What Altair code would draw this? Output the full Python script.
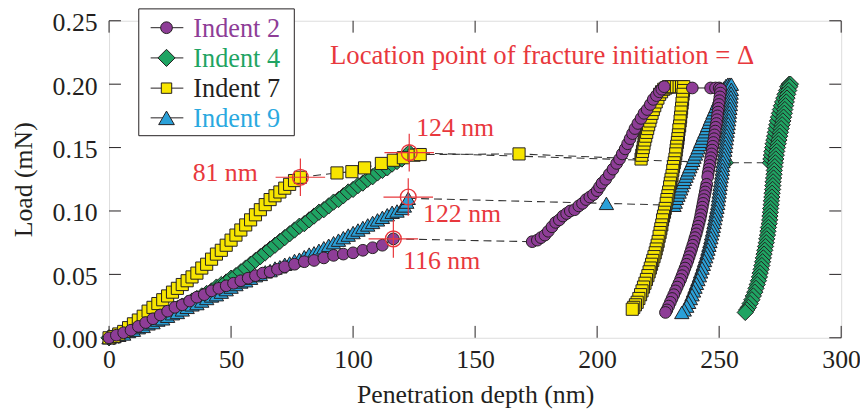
import altair as alt
import pandas as pd

SERIF = "Liberation Serif"
RED = "#e8383d"
INK = "#231f20"

# ---------------- data ----------------
series_names = ["Indent 2", "Indent 4", "Indent 7", "Indent 9"]
fill_colors = ["#8e3d97", "#1fa463", "#f7e500", "#2aa0d8"]
text_colors = ["#8e3d97", "#1fa463", "#231f20", "#2aa9e0"]
shapes = ["circle", "diamond", "square", "triangle-up"]

x_ticks = [0, 50, 100, 150, 200, 250, 300]
y_ticks = [0.00, 0.05, 0.10, 0.15, 0.20, 0.25]

# Indent 2 (purple circles)
i2_load_x = [0, 3, 6, 9, 12, 15, 18, 21, 24, 27, 30, 33, 36, 39, 42, 45, 48, 51, 54, 57,
             60, 63, 66, 69, 72, 76, 80, 84, 88, 92, 96, 100, 104, 108, 112, 116.5]
i2_load_y = [0.000, 0.002, 0.004, 0.006, 0.009, 0.012, 0.015, 0.018, 0.021, 0.024, 0.026,
             0.029, 0.032, 0.034, 0.037, 0.039, 0.041, 0.043, 0.045, 0.047, 0.049, 0.051,
             0.052, 0.054, 0.056, 0.058, 0.060, 0.061, 0.063, 0.065, 0.066, 0.067, 0.069,
             0.071, 0.073, 0.078]
i2_pop_x = []
i2_pop_y = []
i2_after_x = [173.4, 175.5, 177, 178.6, 180, 181.5, 183, 184.5, 186, 187.5, 189, 190.8, 192.5,
              194, 195.5, 197, 198.5, 200, 201, 202, 203.5, 205, 206.5, 208, 209.2, 210.3,
              211.5, 212.5, 213.5, 214.5, 215.5, 216.7, 218, 219.2, 220.5, 221.8, 223, 224.3,
              225.5, 226.5, 227.5, 239, 246.5, 248.5, 250,
              250.6, 250.5, 250.3, 250.1, 249.9, 249.7, 249.5, 249.3, 249.1, 248.9, 248.6,
              248.4, 248.1, 247.9, 247.6, 247.4, 247.1, 246.9, 246.6, 246.3, 246.1, 245.8,
              245.5, 245.3, 244.9, 244.6, 244.3, 244.0, 243.7, 243.4, 243.1, 242.8, 242.5,
              242.2, 241.8, 241.4, 241.0, 240.6, 240.1, 239.7, 239.2, 238.7, 238.2, 237.7,
              237.2, 236.6, 236.0, 235.4, 234.8, 234.2, 233.5, 232.8, 232.1, 231.4, 230.7,
              230.0, 229.3, 228.6, 228.0]
i2_after_y = [0.0758, 0.077, 0.079, 0.081, 0.084, 0.0875, 0.091, 0.093, 0.096, 0.098, 0.100,
              0.101, 0.104, 0.106, 0.109, 0.111, 0.113, 0.116, 0.119, 0.122, 0.125, 0.129,
              0.133, 0.1375, 0.141, 0.145, 0.149, 0.153, 0.157, 0.161, 0.165, 0.169, 0.173,
              0.177, 0.180, 0.184, 0.188, 0.191, 0.194, 0.196, 0.198, 0.197, 0.197, 0.197,
              0.197,
              0.196, 0.193, 0.190, 0.187, 0.184, 0.181, 0.178, 0.175, 0.172, 0.169, 0.166,
              0.163, 0.160, 0.157, 0.154, 0.151, 0.148, 0.145, 0.142, 0.139, 0.136, 0.133,
              0.130, 0.127, 0.121, 0.118, 0.115, 0.112, 0.109, 0.106, 0.103, 0.100, 0.097,
              0.094, 0.091, 0.088, 0.085, 0.082, 0.079, 0.076, 0.073, 0.070, 0.067, 0.064,
              0.061, 0.058, 0.055, 0.052, 0.049, 0.046, 0.043, 0.040, 0.037, 0.034, 0.031,
              0.028, 0.025, 0.022, 0.020]

# Indent 4 (green diamonds)
i4_load_x = [0, 2, 4, 6, 8, 10, 12, 14, 16, 18, 20, 22, 24, 26, 28, 30, 32, 34, 36, 38, 40,
             42, 44, 46, 48, 50, 52, 54, 56, 58, 60, 62, 64, 66, 68, 70, 72, 74, 76, 78, 80,
             82, 84, 86, 88, 90, 92, 94, 96, 98, 100, 102, 104, 106, 108, 110, 112, 114, 116,
             118, 120, 122, 123]
i4_load_y = [0.000, 0.001, 0.002, 0.004, 0.005, 0.007, 0.008, 0.010, 0.012, 0.013, 0.015,
             0.017, 0.019, 0.021, 0.023, 0.025, 0.027, 0.029, 0.031, 0.033, 0.035, 0.037,
             0.040, 0.042, 0.044, 0.047, 0.049, 0.052, 0.055, 0.058, 0.061, 0.064, 0.067,
             0.070, 0.073, 0.076, 0.079, 0.082, 0.085, 0.088, 0.090, 0.093, 0.096, 0.099,
             0.101, 0.104, 0.107, 0.109, 0.112, 0.115, 0.117, 0.120, 0.122, 0.125, 0.127,
             0.130, 0.132, 0.134, 0.137, 0.139, 0.141, 0.144, 0.146]
i4_pop_x = [252.5]
i4_pop_y = [0.138]
i4_after_x = [271.0, 271.2, 271.4, 271.6, 271.9, 272.1, 272.4, 272.7, 273.0, 273.3, 273.6,
              273.9, 274.3, 274.7, 275.1, 275.5, 276.0, 276.5, 277.0, 277.6, 278.1, 278.7,
              279.2,
              278.9, 278.5, 278.1, 277.8, 277.5, 277.2, 276.9, 276.7, 276.4, 276.1, 275.8,
              275.4, 275.1, 274.8, 274.5, 274.2, 273.9, 273.6, 273.4, 273.2, 273.0, 272.8,
              272.6, 272.5, 272.3, 272.1, 272.0, 271.9, 271.7, 271.6, 271.4, 271.3, 271.1,
              271.0, 270.8, 270.7, 270.5, 270.2, 270.0, 269.8, 269.5, 269.3, 269.0, 268.7,
              268.4, 268.1, 267.8, 267.5, 267.2, 266.8, 266.5, 266.1, 265.6, 265.1, 264.6,
              264.0, 263.4, 262.7, 262.0, 261.3, 260.7]
i4_after_y = [0.138, 0.141, 0.144, 0.147, 0.150, 0.153, 0.156, 0.159, 0.162, 0.165, 0.168,
              0.171, 0.174, 0.177, 0.180, 0.183, 0.186, 0.189, 0.192, 0.195, 0.198, 0.200,
              0.200,
              0.198, 0.195, 0.192, 0.189, 0.186, 0.183, 0.180, 0.177, 0.174, 0.171, 0.168,
              0.165, 0.162, 0.159, 0.156, 0.153, 0.150, 0.147, 0.144, 0.141, 0.138, 0.135,
              0.132, 0.129, 0.126, 0.123, 0.120, 0.117, 0.114, 0.111, 0.108, 0.105, 0.102,
              0.099, 0.096, 0.093, 0.090, 0.087, 0.084, 0.081, 0.078, 0.075, 0.072, 0.069,
              0.066, 0.063, 0.060, 0.057, 0.054, 0.051, 0.048, 0.045, 0.042, 0.039, 0.036,
              0.033, 0.030, 0.027, 0.024, 0.022, 0.020]

# Indent 7 (yellow squares)
i7_load_x = [0, 2, 4, 6, 8, 10, 12, 14, 16, 18, 20, 22, 24, 26, 28, 30, 32, 34, 36, 38, 40,
             42, 44, 46, 48, 50, 52, 54, 56, 58, 60, 62, 64, 66, 68, 70, 72, 74, 76, 78.4]
i7_load_y = [0.000, 0.001, 0.003, 0.005, 0.008, 0.011, 0.014, 0.017, 0.021, 0.024, 0.027,
             0.030, 0.033, 0.036, 0.039, 0.042, 0.045, 0.048, 0.051, 0.055, 0.058, 0.062,
             0.066, 0.069, 0.073, 0.077, 0.081, 0.085, 0.089, 0.093, 0.097, 0.101, 0.105,
             0.109, 0.112, 0.115, 0.118, 0.121, 0.124, 0.1266]
i7_pop_x = [93.4, 99.5, 104.7, 111.6, 116.5, 120.6, 125, 127.5, 168]
i7_pop_y = [0.130, 0.131, 0.134, 0.1375, 0.140, 0.142, 0.144, 0.1445, 0.145]
i7_after_x = [218.0, 218.3, 218.6, 218.9, 219.2, 219.5, 219.9, 220.3, 220.7, 221.1, 221.6,
              222.0, 222.5, 223.0, 223.6, 224.2, 224.9, 225.6, 226.4, 227.3, 228.2, 229.2,
              230.3, 231.4, 232.5, 233.6, 234.6, 235.5,
              235.4, 235.2, 235.0, 234.8, 234.6, 234.4, 234.2, 234.0, 233.8, 233.5, 233.3,
              233.1, 232.9, 232.6, 232.4, 232.2, 231.9, 231.6, 231.3, 231.0, 230.7, 230.3,
              230.0, 229.7, 229.3, 229.0, 228.6, 228.3, 227.9, 227.6, 227.2, 226.8, 226.5,
              226.1, 225.8, 225.4, 225.0, 224.6, 224.2, 223.8, 223.3, 222.8, 222.3, 221.8,
              221.3, 220.8, 220.2, 219.6, 219.0, 218.4, 217.8, 217.1, 216.4, 215.7, 215.0,
              214.4]
i7_after_y = [0.141, 0.144, 0.147, 0.150, 0.153, 0.156, 0.159, 0.162, 0.165, 0.168, 0.171,
              0.174, 0.177, 0.180, 0.183, 0.186, 0.189, 0.192, 0.194, 0.196, 0.197, 0.198,
              0.198, 0.198, 0.198, 0.198, 0.198, 0.198,
              0.195, 0.192, 0.188, 0.185, 0.181, 0.178, 0.174, 0.171, 0.167, 0.164, 0.160,
              0.157, 0.154, 0.151, 0.148, 0.145, 0.141, 0.138, 0.135, 0.132, 0.128, 0.125,
              0.122, 0.119, 0.115, 0.112, 0.109, 0.106, 0.102, 0.099, 0.096, 0.093, 0.089,
              0.086, 0.083, 0.080, 0.076, 0.073, 0.070, 0.067, 0.064, 0.061, 0.058, 0.055,
              0.052, 0.049, 0.046, 0.043, 0.040, 0.037, 0.034, 0.031, 0.028, 0.026, 0.024,
              0.0225]

# Indent 9 (blue triangles)
i9_load_x = [0, 2, 4, 6, 8, 10, 12, 14, 16, 18, 20, 22, 24, 26, 28, 30, 32, 34, 36, 38, 40,
             42, 44, 46, 48, 50, 52, 54, 56, 58, 60, 62, 64, 66, 68, 70, 72, 74, 76, 78, 80,
             82, 84, 86, 88, 90, 92, 94, 96, 98, 100, 102, 104, 106, 108, 110, 112, 114, 116,
             118, 120, 121, 122, 122.6]
i9_load_y = [0.000, 0.001, 0.002, 0.003, 0.005, 0.006, 0.008, 0.009, 0.011, 0.012, 0.014,
             0.015, 0.017, 0.019, 0.020, 0.022, 0.024, 0.026, 0.027, 0.029, 0.031, 0.033,
             0.034, 0.036, 0.038, 0.040, 0.042, 0.044, 0.045, 0.047, 0.049, 0.050, 0.052,
             0.053, 0.055, 0.056, 0.058, 0.059, 0.061, 0.062, 0.064, 0.066, 0.067, 0.069,
             0.071, 0.073, 0.075, 0.077, 0.079, 0.081, 0.083, 0.085, 0.087, 0.089, 0.091,
             0.093, 0.095, 0.097, 0.099, 0.100, 0.102, 0.104, 0.107, 0.110]
i9_pop_x = [203.8]
i9_pop_y = [0.106]
i9_after_x = [231.5, 232.0, 232.5, 233.1, 233.6, 234.2, 234.7, 235.3, 235.8, 236.4, 236.9,
              237.5, 238.0, 238.6, 239.2, 239.7, 240.3, 240.9, 241.4, 242.0, 242.5, 243.1,
              243.6, 244.2, 244.8, 245.3, 245.9, 246.4, 247.0, 247.5, 248.1, 248.7, 249.2,
              249.8, 250.3, 250.9, 251.5, 252.0, 252.8, 253.6, 254.4, 255.0,
              255.0, 254.9, 254.8, 254.7, 254.6, 254.4, 254.2, 254.1, 253.9, 253.7, 253.5,
              253.3, 253.1, 252.9, 252.7, 252.5, 252.3, 252.1, 251.9, 251.6, 251.4, 251.3,
              251.1, 250.8, 250.6, 250.4, 250.2, 250.0, 249.8, 249.6, 249.4, 249.1, 248.8,
              248.5, 248.2, 247.9, 247.6, 247.3, 246.9, 246.6, 246.2, 245.8, 245.4, 245.0,
              244.5, 244.0, 243.5, 243.0, 242.4, 241.9, 241.3, 240.7, 240.1, 239.5, 238.9,
              238.2, 237.5, 236.7, 235.7, 234.7]
i9_after_y = [0.1045, 0.107, 0.110, 0.1125, 0.115, 0.1175, 0.120, 0.1225, 0.125, 0.1275,
              0.130, 0.1325, 0.135, 0.1375, 0.140, 0.1425, 0.145, 0.1475, 0.150, 0.1525,
              0.155, 0.1575, 0.160, 0.1625, 0.165, 0.1675, 0.170, 0.1725, 0.175, 0.1775,
              0.180, 0.1825, 0.185, 0.1875, 0.190, 0.1925, 0.195, 0.197, 0.199, 0.200,
              0.200, 0.200,
              0.196, 0.193, 0.190, 0.187, 0.184, 0.181, 0.178, 0.175, 0.172, 0.169, 0.166,
              0.163, 0.160, 0.157, 0.154, 0.151, 0.148, 0.145, 0.142, 0.139, 0.136, 0.133,
              0.130, 0.127, 0.124, 0.121, 0.118, 0.115, 0.112, 0.109, 0.106, 0.103, 0.100,
              0.097, 0.094, 0.091, 0.088, 0.085, 0.082, 0.079, 0.076, 0.073, 0.070, 0.067,
              0.064, 0.061, 0.058, 0.055, 0.052, 0.049, 0.046, 0.043, 0.040, 0.037, 0.034,
              0.031, 0.028, 0.025, 0.022, 0.020]

# fracture-initiation markers
ann_x = [78.4, 123.0, 122.6, 116.5]
ann_y = [0.1266, 0.146, 0.111, 0.078]
ann_labels = ["81 nm", "124 nm", "122 nm", "116 nm"]

heading = "Location point of fracture initiation = \u0394"

# ---------------- tables ----------------
series_data = {
    "Indent 2": (i2_load_x, i2_load_y, i2_pop_x, i2_pop_y, i2_after_x, i2_after_y),
    "Indent 4": (i4_load_x, i4_load_y, i4_pop_x, i4_pop_y, i4_after_x, i4_after_y),
    "Indent 7": (i7_load_x, i7_load_y, i7_pop_x, i7_pop_y, i7_after_x, i7_after_y),
    "Indent 9": (i9_load_x, i9_load_y, i9_pop_x, i9_pop_y, i9_after_x, i9_after_y),
}

marker_frames = {}
solid_rows, dash_rows = [], []
for name, (lx, ly, px, py, ax, ay) in series_data.items():
    xs = lx + px + ax
    ys = ly + py + ay
    marker_frames[name] = pd.DataFrame({"x": xs, "y": ys, "o": list(range(len(xs)))})
    for k, (a, b) in enumerate(zip(lx, ly)):
        solid_rows.append({"g": name + "a", "x": a, "y": b, "o": k})
    for k, (a, b) in enumerate(zip(ax, ay)):
        solid_rows.append({"g": name + "b", "x": a, "y": b, "o": k})
    dxs = [lx[-1]] + px + [ax[0]]
    dys = [ly[-1]] + py + [ay[0]]
    for k, (a, b) in enumerate(zip(dxs, dys)):
        dash_rows.append({"g": name + "p", "x": a, "y": b, "o": k})

solid_df = pd.DataFrame(solid_rows)
dash_df = pd.DataFrame(dash_rows)
ann_df = pd.DataFrame({"x": ann_x, "y": ann_y, "label": ann_labels})
xt_df = pd.DataFrame({"x": x_ticks})
yt_df = pd.DataFrame({"y": y_ticks})

W, H = 739, 320

xscale = alt.Scale(domain=[0, 300], nice=False, zero=False)
yscale = alt.Scale(domain=[0, 0.25], nice=False, zero=False)
xaxis = alt.Axis(values=x_ticks, ticks=False, domain=False, grid=False, labelFlush=False,
                 labelOverlap=False, labelFont=SERIF, labelFontSize=26, labelColor=INK,
                 labelPadding=9, title="Penetration depth (nm)", titleFont=SERIF,
                 titleFontSize=26, titleFontWeight="normal", titleColor=INK, titlePadding=9)
yaxis = alt.Axis(values=y_ticks, format=".2f", ticks=False, domain=False, grid=False,
                 labelFlush=False, labelOverlap=False, labelFont=SERIF, labelFontSize=26,
                 labelColor=INK, labelPadding=12, labelOffset=2, title="Load (mN)",
                 titleFont=SERIF, titleFontSize=26, titleFontWeight="normal", titleColor=INK,
                 titlePadding=16)

X = alt.X("x:Q", scale=xscale, axis=xaxis)
Y = alt.Y("y:Q", scale=yscale, axis=yaxis)

layers = []
# inward ticks on all four sides
layers.append(alt.Chart(xt_df).mark_rule(color=INK, strokeWidth=1).encode(
    x=X, y=alt.value(H), y2=alt.value(H - 12)))
layers.append(alt.Chart(xt_df).mark_rule(color=INK, strokeWidth=1).encode(
    x=X, y=alt.value(0), y2=alt.value(12)))
layers.append(alt.Chart(yt_df).mark_rule(color=INK, strokeWidth=1).encode(
    y=Y, x=alt.value(0), x2=alt.value(12)))
layers.append(alt.Chart(yt_df).mark_rule(color=INK, strokeWidth=1).encode(
    y=Y, x=alt.value(W - 12), x2=alt.value(W)))

# connecting lines
layers.append(alt.Chart(solid_df).mark_line(color=INK, strokeWidth=1).encode(
    x=X, y=Y, detail="g:N", order="o:Q"))
layers.append(alt.Chart(dash_df).mark_line(color="#333333", strokeWidth=1.1,
                                            strokeDash=[8, 5]).encode(
    x=X, y=Y, detail="g:N", order="o:Q"))

marker_sizes = {"Indent 2": 140, "Indent 4": 270, "Indent 7": 150, "Indent 9": 210}
for name in ["Indent 4", "Indent 9", "Indent 7", "Indent 2"]:
    i = series_names.index(name)
    layers.append(alt.Chart(marker_frames[name]).mark_point(
        shape=shapes[i], filled=True, fill=fill_colors[i], fillOpacity=1, opacity=1,
        stroke=INK, strokeWidth=1, size=marker_sizes[name]).encode(x=X, y=Y, order="o:Q"))

# red crosshair targets
layers.append(alt.Chart(ann_df).mark_point(
    shape="M-1,0L1,0M0,-0.76L0,0.76", filled=False, stroke=RED, strokeWidth=1.2,
    size=2500, opacity=1).encode(x=X, y=Y))
layers.append(alt.Chart(ann_df).mark_point(
    shape="circle", filled=False, stroke=RED, strokeWidth=1.4, size=254, opacity=1).encode(
    x=X, y=Y))

label_offsets = [(-43, -4, "right"), (7, -25, "left"), (15, 17, "left"), (10, 22, "left")]
for k, (dx, dy, al) in enumerate(label_offsets):
    layers.append(alt.Chart(ann_df.iloc[[k]]).mark_text(
        font=SERIF, fontSize=26, color=RED, align=al, baseline="middle", dx=dx, dy=dy).encode(
        x=X, y=Y, text="label:N"))

layers.append(alt.Chart(pd.DataFrame({"t": [heading]})).mark_text(
    font=SERIF, fontSize=27, color=RED, align="left", baseline="alphabetic").encode(
    x=alt.value(223), y=alt.value(44), text="t:N"))

# legend (drawn by hand so each label keeps its series colour and line-through symbol)
one = pd.DataFrame({"k": [0]})
layers.append(alt.Chart(one).mark_rect(fill="white", stroke=INK, strokeWidth=1).encode(
    x=alt.value(30), x2=alt.value(187), y=alt.value(-12), y2=alt.value(116)))
row_y = [7, 37.5, 68, 98]
for i, name in enumerate(series_names):
    ry = row_y[i]
    layers.append(alt.Chart(one).mark_rule(color=INK, strokeWidth=1).encode(
        x=alt.value(42), x2=alt.value(75), y=alt.value(ry)))
    layers.append(alt.Chart(one).mark_point(
        shape=shapes[i], filled=True, fill=fill_colors[i], stroke=INK, strokeWidth=1,
        opacity=1, size=[140, 300, 110, 250][i]).encode(x=alt.value(58), y=alt.value(ry)))
    layers.append(alt.Chart(pd.DataFrame({"n": [name]})).mark_text(
        font=SERIF, fontSize=26.5, color=text_colors[i], align="left",
        baseline="alphabetic").encode(x=alt.value(85), y=alt.value(ry + 9), text="n:N"))

chart = alt.layer(*layers).properties(
    width=W, height=H,
    autosize=alt.AutoSizeParams(type="none"),
    padding={"left": 102, "top": 11, "right": 19, "bottom": 71},
).configure_view(stroke=INK, strokeWidth=1.2).configure(background="white")

chart.save("out.html", embed_options={"renderer": "svg", "actions": False})
